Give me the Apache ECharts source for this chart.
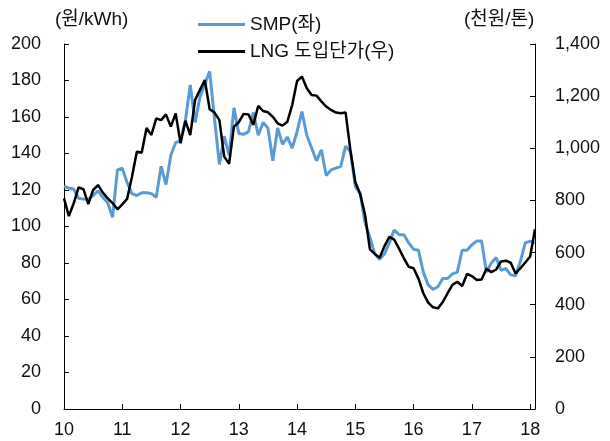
<!DOCTYPE html>
<html>
<head>
<meta charset="utf-8">
<script src="https://cdn.jsdelivr.net/npm/echarts@6/dist/echarts.min.js"></script>
<style>html,body{margin:0;padding:0;background:#fff}#c{width:610px;height:441px}</style>
</head>
<body>
<div id="c"></div>
<script>
// Monthly categories: Jan 2010 .. Feb 2018
var startYear = 2010, nMonths = 98;
var categories = [];
for (var k = 0; k < nMonths; k++) {
  var y = startYear + Math.floor(k / 12), m = (k % 12) + 1;
  categories.push(y + '-' + (m < 10 ? '0' + m : m));
}
// SMP (left axis, 원/kWh)
var smp = [
  122, 121, 120.5, 115.5, 115, 115, 117, 119.5, 116, 113, 105, 131,
  132, 124, 118, 117, 118.5, 118.5, 118, 116, 133, 123, 139, 146,
  147, 158, 177.5, 157, 171, 178, 185, 159, 134, 149.5, 139, 165,
  151, 150.5, 152, 162.5, 150, 157, 154, 136, 154, 145, 149, 143,
  152, 163, 150, 143, 136, 142, 128, 131, 132, 133, 144, 141,
  122, 118, 102, 94, 85, 82, 85, 91, 98, 95.5, 95.5, 91,
  87.5, 87, 75, 68, 65.5, 67, 71.5, 71.5, 74, 75, 87, 87,
  90, 92, 92, 75, 80, 83, 76, 77, 73.5, 73, 81, 91,
  92, 91
];
// LNG import price (right axis, 천원/톤)
var lng = [
  808, 740, 789, 850, 843, 786, 840, 859, 830, 808, 790, 766,
  785, 806, 891, 987, 983, 1078, 1051, 1115, 1108, 1130, 1083, 1134,
  1019, 1106, 1051, 1185, 1224, 1262, 1150, 1137, 1108, 968, 940, 1083,
  1100, 1132, 1130, 1090, 1163, 1143, 1138, 1121, 1096, 1087, 1102, 1166,
  1258, 1275, 1230, 1204, 1202, 1180, 1160, 1147, 1137, 1134, 1137, 990,
  870, 825, 745, 612, 595, 580, 625, 660, 650, 615, 578, 545,
  540, 500, 444, 408, 390, 386, 410, 444, 476, 488, 472, 518,
  510, 495, 497, 538, 525, 535, 566, 569, 561, 520, 540, 562,
  585, 690
];
var leftUnit = '(원/kWh)', rightUnit = '(천원/톤)';
var seriesNames = ['SMP(좌)', 'LNG 도입단가(우)'];

var FONT = '"Liberation Sans", "Noto Sans CJK KR", sans-serif';
var FS = 18, FSK = 19;
var txt = '#111';
function isJan(i) { return i % 12 === 0; }

var chart = echarts.init(document.getElementById('c'), null, {renderer: 'canvas'});
chart.setOption({
  animation: false,
  backgroundColor: '#fff',
  textStyle: {fontFamily: FONT},
  grid: {left: 64, right: 75, top: 44, bottom: 32, containLabel: false},
  legend: [
    {data: [seriesNames[0]], left: 193, top: 10, icon: 'rect', itemWidth: 47, itemHeight: 3,
     textStyle: {fontSize: FSK, color: txt, fontFamily: FONT}, selectedMode: false},
    {data: [seriesNames[1]], left: 193, top: 37, icon: 'rect', itemWidth: 47, itemHeight: 3,
     textStyle: {fontSize: FSK, color: txt, fontFamily: FONT}, selectedMode: false}
  ],
  graphic: [
    {type: 'text', x: 55, y: 20, style: {text: leftUnit, fill: txt, font: FSK + 'px ' + FONT, align: 'left', verticalAlign: 'middle'}},
    {type: 'text', x: 464, y: 20, style: {text: rightUnit, fill: txt, font: FSK + 'px ' + FONT, align: 'left', verticalAlign: 'middle'}}
  ],
  xAxis: {
    type: 'category', data: categories, boundaryGap: false,
    axisLine: {show: true, lineStyle: {color: '#000', width: 1}},
    axisTick: {show: true, inside: true, length: 5, interval: isJan, lineStyle: {color: '#000'}},
    axisLabel: {interval: isJan, margin: 12, fontSize: FS, color: txt, fontFamily: FONT,
      formatter: function (v) { return v.slice(2, 4); }},
    splitLine: {show: false}
  },
  yAxis: [
    {type: 'value', min: 0, max: 200, interval: 20, position: 'left',
     axisLine: {show: true, lineStyle: {color: '#000', width: 1}},
     axisTick: {show: true, inside: true, length: 5, lineStyle: {color: '#000'}},
     axisLabel: {margin: 23, fontSize: FS, color: txt, fontFamily: FONT},
     splitLine: {show: false}},
    {type: 'value', min: 0, max: 1400, interval: 200, position: 'right',
     axisLine: {show: true, lineStyle: {color: '#000', width: 1}},
     axisTick: {show: true, inside: true, length: 5, lineStyle: {color: '#000'}},
     axisLabel: {margin: 20, fontSize: FS, color: txt, fontFamily: FONT,
       formatter: function (v) { return v.toLocaleString('en-US'); }},
     splitLine: {show: false}}
  ],
  series: [
    {name: seriesNames[0], type: 'line', data: smp, yAxisIndex: 0, symbol: 'none',
     lineStyle: {color: '#5B9BD5', width: 3}, itemStyle: {color: '#5B9BD5'}},
    {name: seriesNames[1], type: 'line', data: lng, yAxisIndex: 1, symbol: 'none',
     lineStyle: {color: '#000', width: 2.5}, itemStyle: {color: '#000'}}
  ]
});
</script>
</body>
</html>
